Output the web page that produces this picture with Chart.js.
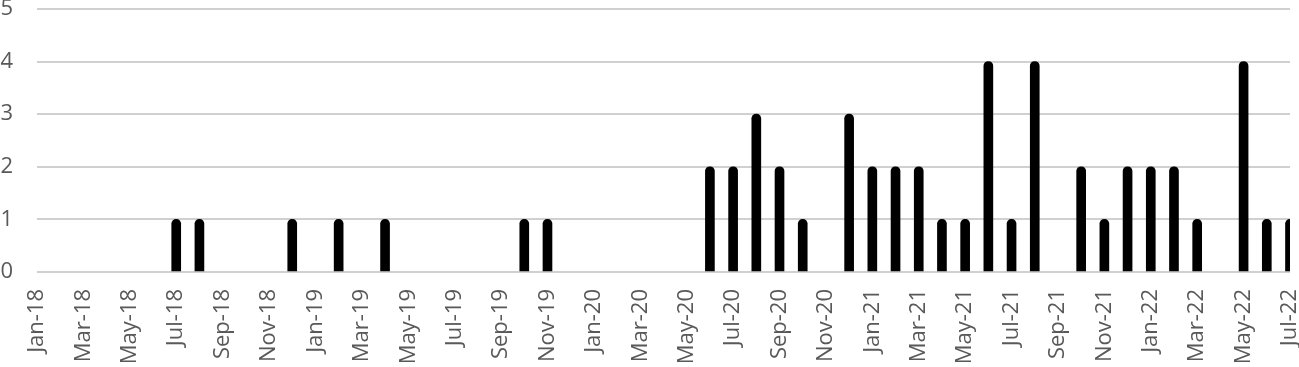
<!DOCTYPE html>
<html>
<head>
<meta charset="utf-8">
<script src="https://cdn.jsdelivr.net/npm/chart.js@4/dist/chart.umd.min.js"></script>
<style>
  html, body { margin: 0; padding: 0; background: #fff; }
  #wrap { width: 1299px; height: 367px; }
</style>
</head>
<body>
<div id="wrap"><canvas id="chart"></canvas></div>
<script>
// monthly labels Jan-18 .. Jul-22
var months = [
    "Jan-18", "Feb-18", "Mar-18", "Apr-18", "May-18", "Jun-18", "Jul-18", "Aug-18", "Sep-18", "Oct-18", "Nov-18", "Dec-18",
    "Jan-19", "Feb-19", "Mar-19", "Apr-19", "May-19", "Jun-19", "Jul-19", "Aug-19", "Sep-19", "Oct-19", "Nov-19", "Dec-19",
    "Jan-20", "Feb-20", "Mar-20", "Apr-20", "May-20", "Jun-20", "Jul-20", "Aug-20", "Sep-20", "Oct-20", "Nov-20", "Dec-20",
    "Jan-21", "Feb-21", "Mar-21", "Apr-21", "May-21", "Jun-21", "Jul-21", "Aug-21", "Sep-21", "Oct-21", "Nov-21", "Dec-21",
    "Jan-22", "Feb-22", "Mar-22", "Apr-22", "May-22", "Jun-22", "Jul-22"
];

var counts = [
    0, 0, 0, 0, 0, 0, 1, 1, 0, 0, 0, 1,
    0, 1, 0, 1, 0, 0, 0, 0, 0, 1, 1, 0,
    0, 0, 0, 0, 0, 2, 2, 3, 2, 1, 0, 3,
    2, 2, 2, 1, 1, 4, 1, 4, 0, 2, 1, 2,
    2, 2, 1, 0, 4, 1, 1
];

var yTicks = [0, 1, 2, 3, 4, 5];

var textColor = '#595959';
var gridColor = '#d0d0d0';
var font = { family: "'Open Sans', 'Noto Sans', sans-serif", size: 22 };

// zero months get no mark at all
function barColor(c) {
    return c.raw > 0 ? '#000000' : 'rgba(0,0,0,0)';
}

let ctx = document.getElementById("chart");
let myChart = new Chart(ctx, {
    type: 'bar',
    data: {
        labels: months,
        datasets: [
            { label: "count", data: counts, backgroundColor: barColor, borderWidth: 0,
                barThickness: 9, borderRadius: 5, borderSkipped: 'start' }
        ]
    },
    options: {
        responsive: true,
        maintainAspectRatio: false,
        animation: false,
        layout: { padding: 0 },
        plugins: {
            legend: { display: false },
            tooltip: { enabled: false }
        },
        scales: {
            x: {
                offset: false,
                grid: { display: false, drawTicks: false },
                border: { display: false },
                ticks: {
                    color: textColor,
                    font: font,
                    autoSkip: false,
                    minRotation: 90,
                    maxRotation: 90,
                    padding: 17,
                    callback: function(value, index) {
                        return index % 2 === 0 ? months[index] : '';
                    }
                },
                afterFit: function(scale) {
                    scale.height = 95;
                    scale.paddingRight = 9;
                }
            },
            y: {
                min: 0,
                max: 5,
                afterBuildTicks: function(scale) {
                    scale.ticks = yTicks.map(function(v) { return { value: v }; });
                },
                grid: { color: gridColor, lineWidth: 2, drawTicks: false },
                border: { display: false },
                ticks: {
                    color: textColor,
                    font: font,
                    padding: 24
                },
                afterFit: function(scale) {
                    scale.width = 37;
                    scale.paddingTop = 9;
                }
            }
        }
    }
});
</script>
</body>
</html>
